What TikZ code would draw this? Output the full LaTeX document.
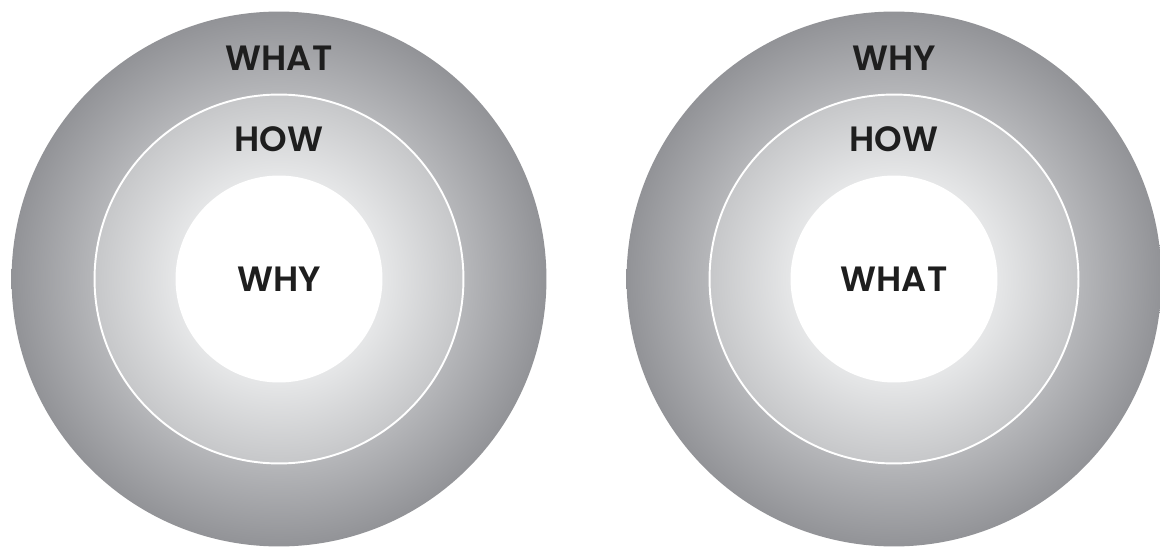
\documentclass[tikz,border=0pt]{standalone}
\usepackage{fontspec}
\setmainfont{Poppins}[UprightFont=* SemiBold]
\usepackage{tikz}
\usepackage{xcolor}
\usetikzlibrary{positioning}

\definecolor{bandedge}{HTML}{929397}
\definecolor{bandin}{HTML}{B6B7BA}
\definecolor{corenear}{HTML}{E7E8E9}
\definecolor{coreedge}{HTML}{C6C7C9}
\definecolor{wordink}{HTML}{1E1E1E}

\pgfdeclareradialshading{bandshade}{\pgfpoint{0bp}{0bp}}{%
  color(0bp)=(bandin); color(17.2bp)=(bandin); color(25bp)=(bandedge); color(50bp)=(bandedge)}
\pgfdeclareradialshading{coreshade}{\pgfpoint{0bp}{0bp}}{%
  color(0bp)=(white); color(13.5bp)=(corenear); color(25bp)=(coreedge); color(50bp)=(coreedge)}

\begin{document}
\begin{tikzpicture}[
          x=0.02cm, y=-0.02cm,
          band/.style={circle, inner sep=0pt, outer sep=0pt, minimum size=10.7cm, shading=bandshade},
          core/.style={circle, inner sep=0pt, outer sep=0pt, minimum size=7.38cm, shading=coreshade, draw=white, line width=1.1pt},
          hole/.style={circle, inner sep=0pt, outer sep=0pt, minimum size=4.14cm, fill=white},
          word/.style={text=wordink, font=\fontsize{20}{24}\selectfont, inner sep=0pt}
      ]
        \fill[white] (0,0) rectangle (1160,547);
        \useasboundingbox (0,0) rectangle (1160,547);
        % left: why at the centre
        \node[band] (bandL) at (279,279) {};
        \node[core] (coreL) at (bandL.center) {};
        \node[hole] (holeL) at (bandL.center) {};
        \node[word] (outerL) at (279,58) {WHAT};
        \node[word] (ringL) at (279,139) {HOW};
        \node[word] (centreL) at (holeL.center) {WHY};
        % right: what at the centre
        \node[band] (bandR) at (894,279) {};
        \node[core] (coreR) at (bandR.center) {};
        \node[hole] (holeR) at (bandR.center) {};
        \node[word] (outerR) at (894,58) {WHY};
        \node[word] (ringR) at (894,139) {HOW};
        \node[word] (centreR) at (holeR.center) {WHAT};
      \end{tikzpicture}
\end{document}
